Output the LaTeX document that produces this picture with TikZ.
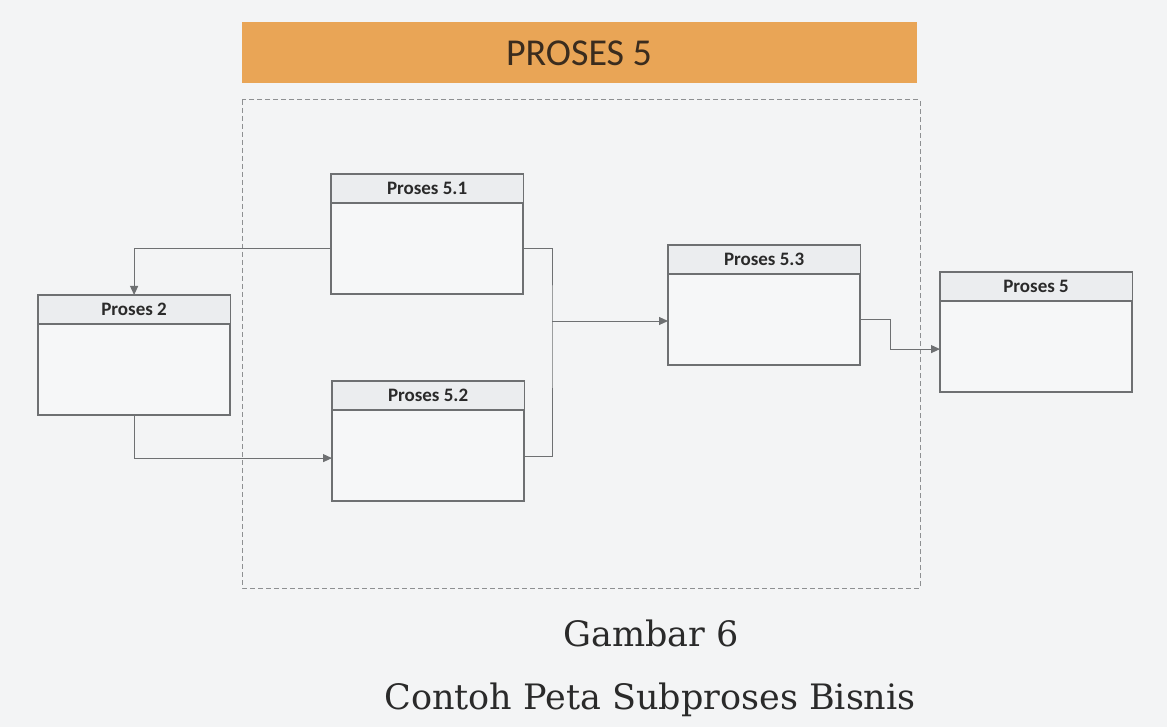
\documentclass[tikz,border=0pt]{standalone}
\usepackage{fontspec}
\setmainfont{DejaVu Serif}
\newfontfamily\carlito{Carlito}
\usetikzlibrary{arrows.meta}
\definecolor{bg}{HTML}{F3F4F5}
\definecolor{barc}{HTML}{E9A556}
\definecolor{bartxt}{HTML}{3A2C1E}
\definecolor{boxfill}{HTML}{F6F7F8}
\definecolor{hdrfill}{HTML}{EBEDEF}
\definecolor{edge}{HTML}{6E7072}
\definecolor{dashc}{HTML}{8E9092}
\definecolor{txt}{HTML}{2A2A2A}
\tikzset{
  box/.style={draw=edge, line width=1.2pt, fill=boxfill, anchor=north west, minimum width=191pt, minimum height=119pt, inner sep=0pt},
  hdrtxt/.style={font=\carlito\bfseries\fontsize{19}{22}\selectfont, text=txt},
  conn/.style={draw=edge, line width=1pt},
  arr/.style={-{Triangle[length=9pt,width=8pt]}},
  captxt/.style={font=\fontsize{35}{40}\selectfont, text=txt},
}
\newcommand{\hdr}[2]{%
  \fill[hdrfill] (#1.north west) rectangle ([yshift=-29pt]#1.north east);
  \draw[edge, line width=1.2pt] (#1.north west) rectangle (#1.south east);
  \draw[edge, line width=1.2pt] ([yshift=-29pt]#1.north west) -- ([yshift=-29pt]#1.north east);
  \node[hdrtxt] at ([yshift=-14.5pt]#1.north) {#2};}
\begin{document}
\begin{tikzpicture}[x=1pt,y=-1pt]
\useasboundingbox (0,0) rectangle (1167,727);
\fill[bg] (0,0) rectangle (1167,727);
% title bar
\node[fill=barc, minimum width=675pt, minimum height=61pt, anchor=north west, inner sep=0pt] (bar) at (242,22) {};
\node[font=\carlito\fontsize{38}{44}\selectfont, text=bartxt] (bartitle) at (579,53) {PROSES 5};
% dashed frame
\draw[dashc, line width=1pt, dash pattern=on 5pt off 3pt] (242,100) rectangle (920,588);
% boxes
\node[box] (p51) at (331,174) {};
\node[box] (p2) at (38,295) {};
\node[box] (p52) at (332,381) {};
\node[box] (p53) at (668,245) {};
\node[box] (p5) at (940,272) {};
\hdr{p51}{Proses 5.1}
\hdr{p2}{Proses 2}
\hdr{p52}{Proses 5.2}
\hdr{p53}{Proses 5.3}
\hdr{p5}{Proses 5}
% connectors
\draw[conn, arr] ([yshift=-14pt]p51.west) -| (p2.north);
\draw[conn, arr] (p2.south) |- ([yshift=-17pt]p52.west);
\coordinate (j) at (552,321);
\draw[conn] ([yshift=-14pt]p51.east) -| (j) |- ([yshift=-15pt]p52.east);
\draw[conn, arr] (j) -- (p53.west |- j);
\draw[conn, arr] ([yshift=-14pt]p53.east) -- ++(30,0) |- ([yshift=-17pt]p5.west);
% caption
\node[captxt] (cap1) at (651,633) {Gambar 6};
\node[captxt] (cap2) at (650,700) {Contoh Peta Subproses Bisnis};
\end{tikzpicture}
\end{document}
